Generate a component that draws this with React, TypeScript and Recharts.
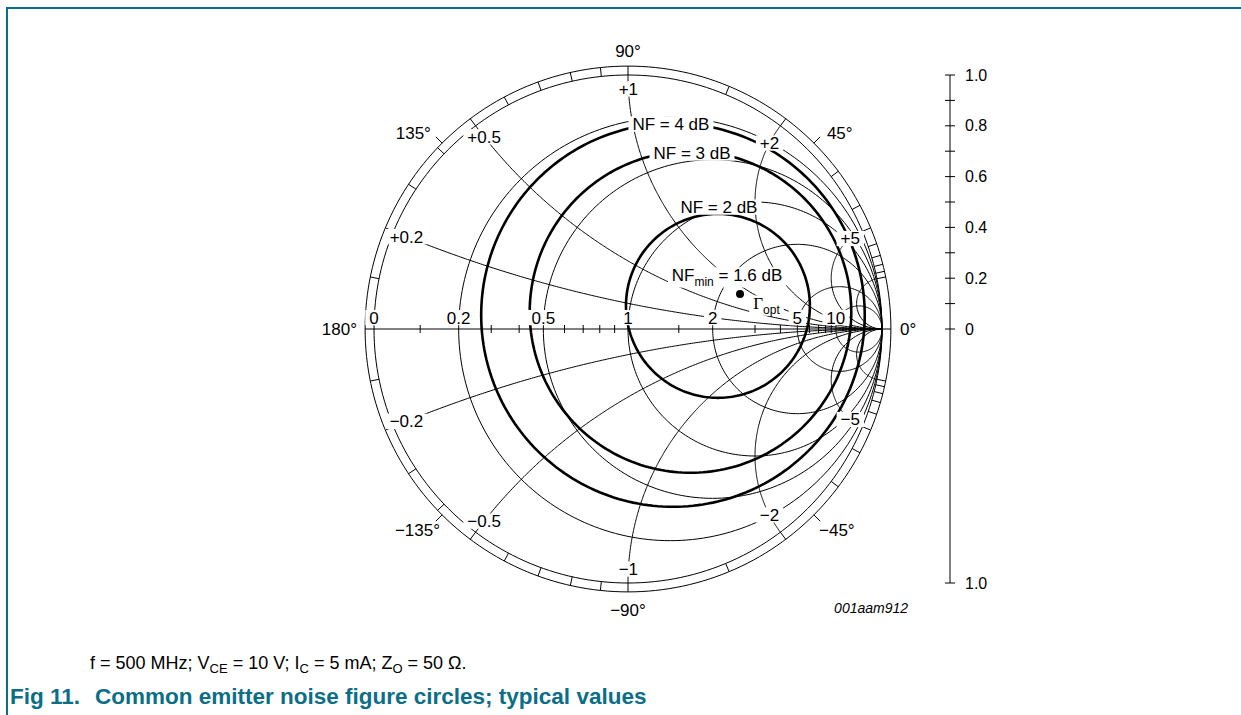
import React from "react";
import { Scatter, ScatterChart, XAxis, YAxis } from "recharts";

const WIDTH = 1241;
const HEIGHT = 715;
// chart centre on the page and pixels per unit of reflection coefficient
const ORIGIN_X = 628;
const ORIGIN_Y = 329;
const UNIT = 254;

const X_DOMAIN: [number, number] = [-ORIGIN_X / UNIT, (WIDTH - ORIGIN_X) / UNIT];
const Y_DOMAIN: [number, number] = [-(HEIGHT - ORIGIN_Y) / UNIT, ORIGIN_Y / UNIT];

const FONT = '"Liberation Sans", Arial, Helvetica, sans-serif';
const SERIF = '"Liberation Serif", "Times New Roman", serif';
const TEAL = "#0b6e87";

// Smith chart grid
const resistanceValues = [0, 0.2, 0.5, 1, 2, 5, 10];
const reactanceValues = [0.2, 0.5, 1, 2, 5, 10];
const axisTickValues = [0.1, 0.3, 0.4, 0.6, 0.7, 0.8, 0.9, 1.5, 3, 4, 6, 7, 8, 9];
const rimTickValues = [0.1, 0.2, 0.3, 0.4, 0.5, 0.6, 0.7, 0.8, 0.9, 1, 1.5, 2, 3, 4, 5, 6, 7, 8, 9, 10];
const leaderAngles = [45, 135, -45, -135];

// noise figure circles: centre and radius in the reflection plane
const nfLabels = ["NF = 4 dB", "NF = 3 dB", "NF = 2 dB"];
const nfCenterRe = [0.177, 0.246, 0.354];
const nfCenterIm = [0.055, 0.067, 0.091];
const nfRadius = [0.755, 0.633, 0.362];
const nfMinDb = 1.6;
const gammaOpt = [{ x: 0.441, y: 0.138 }];

// |Γ| scale at the right
const magnitudeTicks = [-1, 0, 0.1, 0.2, 0.3, 0.4, 0.5, 0.6, 0.7, 0.8, 0.9, 1];

const RING = 1.035;
const SCALE_X = (950 - ORIGIN_X) / UNIT;

type Pt = { x: number; y: number };

function gamma(r: number, x: number): Pt {
  const den = (r + 1) * (r + 1) + x * x;
  return { x: (r * r - 1 + x * x) / den, y: (2 * x) / den };
}

function circle(cx: number, cy: number, rad: number, n = 240): Pt[] {
  const pts: Pt[] = [];
  for (let i = 0; i <= n; i++) {
    const t = (i / n) * 2 * Math.PI;
    pts.push({ x: cx + rad * Math.cos(t), y: cy + rad * Math.sin(t) });
  }
  return pts;
}

// constant-reactance arc from the rim to the open-circuit point
function reactanceArc(x: number, n = 240): Pt[] {
  const pts: Pt[] = [];
  for (let i = 0; i <= n; i++) {
    const phi = (i / n) * (Math.PI / 2) * 0.9995;
    pts.push(gamma(Math.tan(phi), x));
  }
  pts.push({ x: 1, y: 0 });
  return pts;
}

// point on a reactance arc where |Γ| = k (used to place the arc labels)
function arcSpot(x: number, k: number): Pt {
  const a = 1 + k * k;
  const b = 1 - k * k;
  const r = (a - Math.sqrt(a * a - b * b * (1 + x * x))) / b;
  return gamma(r, x);
}

const thinSeries = [
  ...resistanceValues.map((r) => ({ key: `r${r}`, points: circle(r / (1 + r), 0, 1 / (1 + r)) })),
  ...reactanceValues.flatMap((x) => [
    { key: `x${x}`, points: reactanceArc(x) },
    { key: `x-${x}`, points: reactanceArc(-x) },
  ]),
  { key: "ring", points: circle(0, 0, RING) },
  { key: "axis", points: [{ x: -RING, y: 0 }, { x: RING, y: 0 }] },
  { key: "scale", points: [{ x: SCALE_X, y: -1 }, { x: SCALE_X, y: 1 }] },
];

const nfSeries = nfLabels.map((label, i) => ({
  key: label,
  points: circle(nfCenterRe[i], nfCenterIm[i], nfRadius[i]),
}));

const rimTicks = rimTickValues.flatMap((v) => [gamma(0, v), gamma(0, -v)]);
const leaderTicks = leaderAngles.map((deg) => ({
  x: RING * Math.cos((deg * Math.PI) / 180),
  y: RING * Math.sin((deg * Math.PI) / 180),
}));
const axisTicks = axisTickValues.map((r) => ({ x: gamma(r, 0).x, y: 0 }));
const scaleTicks = magnitudeTicks.map((v) => ({ x: SCALE_X, y: v, value: v }));

type Tag = {
  x: number;
  y: number;
  text: string;
  kind?: "plain" | "nfmin" | "gamma";
  anchor?: "start" | "middle" | "end";
  size?: number;
  italic?: boolean;
  bg?: boolean;
};

const fmt = (v: number) => (v < 0 ? "\u2212" : "+") + Math.abs(v);

const resistanceTags: Tag[] = resistanceValues.map((r) => ({
  x: gamma(r, 0).x,
  y: 0.045,
  text: String(r),
  bg: true,
}));

const reactanceTags: Tag[] = reactanceValues
  .filter((x) => x < 10)
  .flatMap((x) => [x, -x])
  .map((x) => ({ ...arcSpot(x, Math.abs(x) === 2 ? 0.92 : 0.945), text: fmt(x), bg: true }));

const nfTags: Tag[] = [
  { x: 0.169, y: 0.807, text: nfLabels[0], bg: true },
  { x: 0.252, y: 0.693, text: nfLabels[1], bg: true },
  { x: 0.358, y: 0.48, text: nfLabels[2], bg: true },
  { x: 0.39, y: 0.213, text: ` = ${nfMinDb} dB`, kind: "nfmin", bg: true },
  { x: 0.493, y: 0.102, text: "Γ", kind: "gamma", anchor: "start", bg: true },
];

const angleTags: Tag[] = [
  { x: 0, y: 1.094, text: "90°" },
  { x: 0.783, y: 0.772, text: "45°", anchor: "start" },
  { x: 1.071, y: 0, text: "0°", anchor: "start" },
  { x: 0.752, y: -0.791, text: "\u221245°", anchor: "start" },
  { x: 0, y: -1.106, text: "\u221290°" },
  { x: -0.74, y: -0.791, text: "\u2212135°", anchor: "end" },
  { x: -1.067, y: 0, text: "180°", anchor: "end" },
  { x: -0.776, y: 0.772, text: "135°", anchor: "end" },
  { x: 0.957, y: -1.098, text: "001aam912", size: 14, italic: true },
];

function charWidth(ch: string) {
  if (" .,;:".includes(ch)) return 0.278;
  if ("=+\u2212".includes(ch)) return 0.584;
  if (ch === "N") return 0.722;
  if (ch === "F") return 0.611;
  if (ch === "B") return 0.667;
  if (ch === "°") return 0.4;
  return 0.556;
}
const textWidth = (s: string, size: number) =>
  s.split("").reduce((w, ch) => w + charWidth(ch), 0) * size;

const noMarker = () => <g />;

function TagShape(props: any) {
  const { cx, cy, payload } = props;
  const p = payload as Tag;
  const size = p.size ?? 17;
  const anchor = p.anchor ?? "middle";
  let w = textWidth(p.text, size);
  if (p.kind === "nfmin") w += textWidth("NF", size) + 1.611 * 12;
  if (p.kind === "gamma") w = 0.578 * size + 1.39 * 12;
  const left = anchor === "middle" ? cx - w / 2 : anchor === "end" ? cx - w : cx;
  const sub = p.kind === "nfmin" || p.kind === "gamma";
  return (
    <g>
      {p.bg && (
        <rect
          x={left - 4}
          y={cy - size * 0.45}
          width={w + 8}
          height={size * 0.9 + (sub ? 5 : 0)}
          fill="#fff"
        />
      )}
      <text
        x={cx}
        y={cy}
        dy="0.35em"
        textAnchor={anchor}
        fontFamily={FONT}
        fontSize={size}
        fontStyle={p.italic ? "italic" : "normal"}
        fill="#000"
      >
        {p.kind === "nfmin" ? (
          <>
            NF
            <tspan fontSize={12} dy={5}>min</tspan>
            <tspan dy={-5}>{p.text}</tspan>
          </>
        ) : p.kind === "gamma" ? (
          <>
            <tspan fontFamily={SERIF}>Γ</tspan>
            <tspan fontSize={12} dy={5}>opt</tspan>
          </>
        ) : (
          p.text
        )}
      </text>
    </g>
  );
}

function RadialTick(props: any) {
  const { cx, cy, payload } = props;
  const a = Math.atan2(payload.y, payload.x);
  const len = (RING - 1) * UNIT;
  return (
    <line
      x1={cx}
      y1={cy}
      x2={cx + len * Math.cos(a)}
      y2={cy - len * Math.sin(a)}
      stroke="#000"
      strokeWidth={1}
    />
  );
}

function AxisTick(props: any) {
  const { cx, cy } = props;
  return <line x1={cx} y1={cy - 4} x2={cx} y2={cy + 4} stroke="#000" strokeWidth={1} />;
}

function ScaleTick(props: any) {
  const { cx, cy, payload } = props;
  const v = payload.value as number;
  const major = Math.round(Math.abs(v) * 10) % 2 === 0;
  const label = v === 0 ? "0" : major ? Math.abs(v).toFixed(1) : "";
  return (
    <g>
      <line x1={cx - 5} y1={cy} x2={cx + 5} y2={cy} stroke="#000" strokeWidth={1} />
      {label && (
        <text x={cx + 15} y={cy} dy="0.35em" fontFamily={FONT} fontSize={16} fill="#000">
          {label}
        </text>
      )}
    </g>
  );
}

function Dot(props: any) {
  return <circle cx={props.cx} cy={props.cy} r={4} fill="#000" />;
}

const subStyle = { fontSize: 13, verticalAlign: -4, lineHeight: 0 };

export default function App() {
  return (
    <div
      style={{
        position: "absolute",
        left: 0,
        top: 0,
        width: WIDTH,
        height: HEIGHT,
        background: "#fff",
        overflow: "hidden",
      }}
    >
      <div style={{ position: "absolute", left: 7, top: 7, right: 0, height: 1.5, background: TEAL }} />
      <div style={{ position: "absolute", left: 6, top: 7, width: 1.5, bottom: 0, background: TEAL }} />
      <div style={{ position: "absolute", left: 0, top: 0 }}>
        <ScatterChart width={WIDTH} height={HEIGHT} margin={{ top: 0, right: 0, bottom: 0, left: 0 }}>
          <XAxis type="number" dataKey="x" domain={X_DOMAIN} allowDataOverflow hide />
          <YAxis type="number" dataKey="y" domain={Y_DOMAIN} allowDataOverflow hide />
          {thinSeries.map((s) => (
            <Scatter
              key={s.key}
              data={s.points}
              line={{ stroke: "#000", strokeWidth: 1 }}
              shape={noMarker}
              isAnimationActive={false}
            />
          ))}
          {nfSeries.map((s) => (
            <Scatter
              key={s.key}
              data={s.points}
              line={{ stroke: "#000", strokeWidth: 2.6 }}
              shape={noMarker}
              isAnimationActive={false}
            />
          ))}
          <Scatter data={rimTicks} shape={RadialTick} isAnimationActive={false} />
          <Scatter data={leaderTicks} shape={RadialTick} isAnimationActive={false} />
          <Scatter data={axisTicks} shape={AxisTick} isAnimationActive={false} />
          <Scatter data={scaleTicks} shape={ScaleTick} isAnimationActive={false} />
          <Scatter data={resistanceTags} shape={TagShape} isAnimationActive={false} />
          <Scatter data={reactanceTags} shape={TagShape} isAnimationActive={false} />
          <Scatter data={nfTags} shape={TagShape} isAnimationActive={false} />
          <Scatter data={angleTags} shape={TagShape} isAnimationActive={false} />
          <Scatter data={gammaOpt} shape={Dot} isAnimationActive={false} />
        </ScatterChart>
      </div>
      <div
        style={{
          position: "absolute",
          left: 90,
          top: 654,
          fontFamily: FONT,
          fontSize: 18,
          lineHeight: "18px",
          color: "#000",
          whiteSpace: "nowrap",
        }}
      >
        f = 500 MHz; V<sub style={subStyle}>CE</sub> = 10 V; I<sub style={subStyle}>C</sub> = 5 mA; Z
        <sub style={subStyle}>O</sub> = 50 Ω.
      </div>
      <div
        style={{
          position: "absolute",
          left: 10,
          top: 686,
          fontFamily: FONT,
          fontSize: 22.5,
          lineHeight: "22px",
          fontWeight: "bold",
          color: TEAL,
          whiteSpace: "nowrap",
        }}
      >
        <span style={{ display: "inline-block", width: 85 }}>Fig 11.</span>
        Common emitter noise figure circles; typical values
      </div>
    </div>
  );
}
